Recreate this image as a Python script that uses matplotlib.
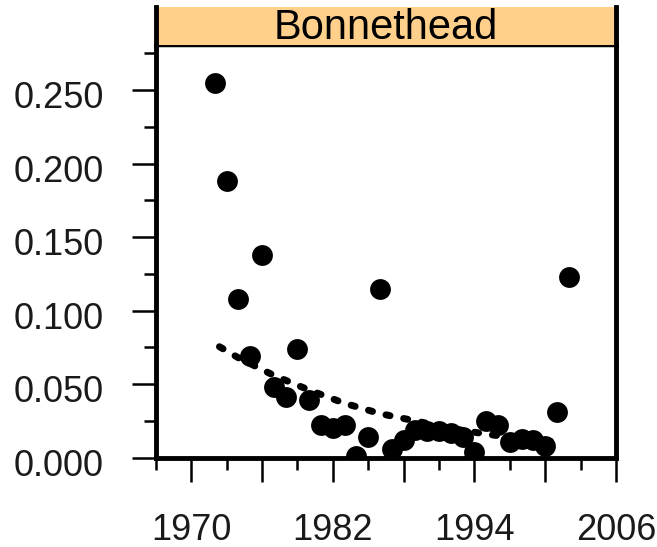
"""
Bonnethead panel: yearly index values with a dotted trend line.
"""

import matplotlib
matplotlib.use("Agg")
import matplotlib.pyplot as plt
import matplotlib.transforms as mtransforms
import numpy as np

# yearly index values
years = [1972, 1973, 1974, 1975, 1976, 1977, 1978, 1979, 1980, 1981,
         1982, 1983, 1984, 1985, 1986, 1987, 1988, 1989, 1990, 1991,
         1992, 1993, 1994, 1995, 1996, 1997, 1998, 1999, 2000, 2001, 2002]
index_vals = [0.255, 0.188, 0.108, 0.069, 0.138, 0.048, 0.041, 0.074, 0.039, 0.022,
              0.020, 0.022, 0.001, 0.014, 0.115, 0.006, 0.012, 0.019, 0.018, 0.018,
              0.017, 0.014, 0.004, 0.025, 0.022, 0.011, 0.013, 0.012, 0.008, 0.031, 0.123]

# dotted trend line
trend_years = [1972.4, 1974, 1977, 1980, 1983, 1986, 1989, 1992, 1995, 1998, 2000.7]
trend_vals = [0.0755, 0.068, 0.056, 0.046, 0.037, 0.030, 0.025, 0.020, 0.016, 0.013, 0.011]

panel_title = "Bonnethead"
x_labelled = [1970, 1982, 1994, 2006]

plt.rcParams['font.family'] = ['Liberation Sans', 'DejaVu Sans']
txt_color = '#1a1a1a'

fig = plt.figure(figsize=(6.57, 5.47), dpi=100)
ax = fig.add_axes([0.2370, 0.1633, 0.7006, 0.7545])
strip = fig.add_axes([0.2370, 0.9177, 0.7006, 0.0695])

ax.plot(trend_years, trend_vals, color='black', lw=5,
        linestyle=(0, (0.6, 2.0)), dash_capstyle='round')
ax.plot(years, index_vals, 'o', color='black', markersize=15, markeredgewidth=0)

ax.set_xlim(1967, 2006)
ax.set_ylim(0, 0.2808)

# y ticks
ax.set_yticks(np.arange(0, 0.26, 0.05))
ax.set_yticklabels([f"{v:.3f}" for v in np.arange(0, 0.26, 0.05)])
ax.set_yticks(np.arange(0.025, 0.28, 0.05), minor=True)

# x ticks: long every 6 years, labels every 12
major_x = list(range(1970, 2007, 6))
ax.set_xticks(major_x)
ax.set_xticklabels([str(y) if y in x_labelled else '' for y in major_x])
ax.set_xticks(list(range(1967, 2006, 6)), minor=True)

ax.tick_params(axis='both', which='major', direction='out', length=17,
               width=1.8, labelsize=26, labelcolor=txt_color)
ax.tick_params(axis='both', which='minor', direction='out', length=8.5, width=1.8)
ax.tick_params(axis='y', which='major', pad=20.5)
ax.tick_params(axis='x', which='major', pad=23)

for sp in ax.spines.values():
    sp.set_linewidth(3.5)
    sp.set_color('black')
ax.spines['top'].set_linewidth(2.5)

# y labels sit a little below their ticks
offset = mtransforms.ScaledTranslation(0, -4.5 / 100, fig.dpi_scale_trans)
for lbl in ax.get_yticklabels():
    lbl.set_transform(lbl.get_transform() + offset)

# strip header
strip.set_facecolor('#FFCF8C')
strip.set_xticks([])
strip.set_yticks([])
strip.spines['top'].set_visible(False)
strip.spines['bottom'].set_visible(False)
strip.spines['left'].set_linewidth(3.5)
strip.spines['right'].set_linewidth(3.5)
strip.text(0.5, 0.45, panel_title, ha='center', va='center', fontsize=30,
           color='black', transform=strip.transAxes)

fig.savefig('out.png', dpi=100)
